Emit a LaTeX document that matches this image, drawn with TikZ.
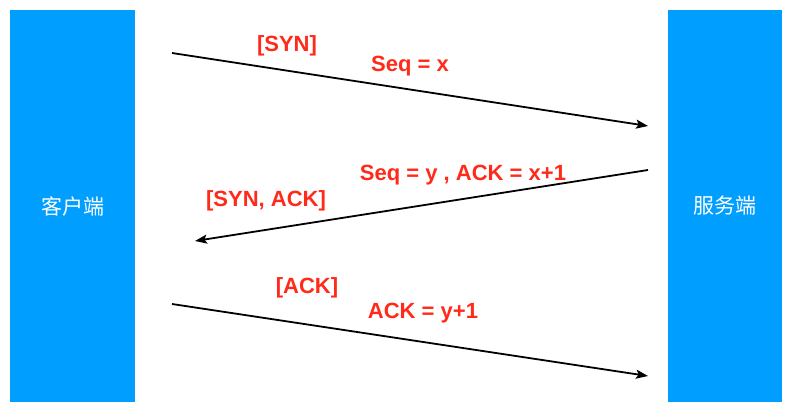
\documentclass[tikz,border=0pt]{standalone}
\usepackage{fontspec}
\setmainfont{Liberation Sans}
\newfontfamily\cjk{Noto Sans CJK SC}
\usetikzlibrary{arrows.meta}
\definecolor{hostblue}{RGB}{0,158,255}
\definecolor{msgred}{RGB}{255,42,26}
\tikzset{
  host/.style={fill=hostblue, draw=none, inner sep=0pt, text=white,
    font=\cjk\fontsize{21}{21}\selectfont},
  msg/.style={line width=1.8pt, -{Stealth[length=12pt,width=9pt,inset=2.5pt]}},
  flag/.style={text=msgred, inner sep=0pt, font=\bfseries\fontsize{22}{22}\selectfont}
}

\begin{document}
\begin{tikzpicture}[x=1pt,y=-1pt]
\useasboundingbox (0,0) rectangle (792,406);
% hosts
\node[host, minimum width=125pt, minimum height=391pt] (client) at (72.5,206) {客户端};
\node[host, minimum width=114pt, minimum height=391pt] (server) at (725,206) {服务端};
% message ends
\coordinate (c1) at (172,53);
\coordinate (s1) at (648,126);
\coordinate (s2) at (648,170);
\coordinate (c2) at (195,241);
\coordinate (c3) at (172,304);
\coordinate (s3) at (648,376);
% messages
\draw[msg] (c1) -- (s1);
\draw[msg] (s2) -- (c2);
\draw[msg] (c3) -- (s3);
% labels
\node[flag] (syn) at (287,46) {[SYN]};
\node[flag] (seqx) at (410,66) {Seq = x};
\node[flag] (seqy) at (463,175) {Seq = y , ACK = x+1};
\node[flag] (synack) at (266,201) {[SYN, ACK]};
\node[flag] (ack) at (307,288) {[ACK]};
\node[flag] (acky) at (423,313) {ACK = y+1};
\end{tikzpicture}
\end{document}
